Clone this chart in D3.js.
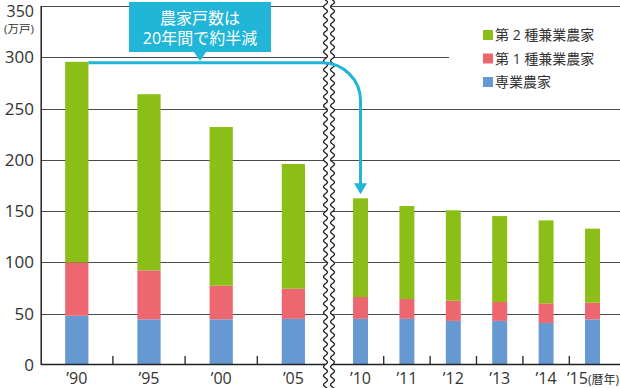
<!DOCTYPE html>
<html>
<head>
<meta charset="utf-8">
<script src="https://cdn.jsdelivr.net/npm/d3@7"></script>
<style>
  body { margin: 0; background: #fff; }
  svg { display: block; font-family: "Open Sans", "Noto Sans CJK JP", sans-serif; }
</style>
</head>
<body>
<div id="chart"></div>
<script>
// データ（万戸）
const years = ["’90", "’95", "’00", "’05", "’10", "’11", "’12", "’13", "’14", "’15"];
const sengyo = [48, 44.5, 44.5, 45, 45, 45, 43, 43, 41, 44.5];        // 専業農家
const kengyo1 = [52, 47.8, 32.8, 29.4, 21.3, 19.3, 19.7, 18.4, 19.1, 16.2]; // 第1種兼業農家
const kengyo2 = [195.6, 171.7, 154.7, 121.6, 96.2, 90.7, 88.1, 83.8, 80.9, 72.2]; // 第2種兼業農家
const yTicks = [0, 50, 100, 150, 200, 250, 300, 350];
const legendLabels = ["第 2 種兼業農家", "第 1 種兼業農家", "専業農家"];

const width = 620, height = 388;
const colors = { s: "#6698d2", k1: "#ec6770", k2: "#8bbe16" };
const cyan = "#21b5d8";

const svg = d3.select("#chart").append("svg")
    .attr("width", width)
    .attr("height", height);

const y = d3.scaleLinear().domain([0, 350]).range([365, 6]);

// 左（5年おき）と右（毎年）の2つのスケール
const leftYears = years.slice(0, 4);
const rightYears = years.slice(4);
const xL = d3.scaleBand().domain(leftYears).range([40.7, 329.5]);
const xR = d3.scaleBand().domain(rightYears).range([337.3, 615.7]);
const xc = d => leftYears.includes(d) ? xL(d) + xL.bandwidth() / 2 : xR(d) + xR.bandwidth() / 2;
const bw = d => (leftYears.includes(d) ? xL.bandwidth() : xR.bandwidth()) * 0.322;

// グリッド線
svg.append("g").selectAll("line")
    .data(yTicks.filter(t => t > 0))
    .join("line")
    .attr("x1", 41).attr("x2", width)
    .attr("y1", d => Math.round(y(d)) + 0.5).attr("y2", d => Math.round(y(d)) + 0.5)
    .attr("stroke", "#4a4a4a").attr("stroke-width", 1);

// y軸ラベル
svg.append("g").selectAll("text")
    .data(yTicks)
    .join("text")
    .attr("x", 34).attr("y", d => Math.max(y(d) + 6, 17))
    .attr("text-anchor", "end")
    .attr("font-size", d => d === 350 ? 16 : 17).attr("fill", "#333")
    .text(d => d);

svg.append("text")
    .attr("x", 19).attr("y", 33)
    .attr("text-anchor", "middle")
    .attr("font-size", 11.5).attr("fill", "#333")
    .text("(万戸)");

// 積み上げ棒
const rows = years.map((d, i) => ({ year: d, s: sengyo[i], k1: kengyo1[i], k2: kengyo2[i] }));
const stack = d3.stack().keys(["s", "k1", "k2"])(rows);

svg.append("g").selectAll("g")
    .data(stack)
    .join("g")
    .attr("fill", d => colors[d.key])
    .selectAll("rect")
    .data(d => d)
    .join("rect")
    .attr("x", d => xc(d.data.year) - bw(d.data.year) / 2)
    .attr("width", d => bw(d.data.year))
    .attr("y", d => y(d[1]))
    .attr("height", d => y(d[0]) - y(d[1]));

// 軸線
svg.append("line")
    .attr("x1", 41.2).attr("x2", 41.2).attr("y1", 6).attr("y2", 365)
    .attr("stroke", "#222").attr("stroke-width", 1.5);
svg.append("line")
    .attr("x1", 41).attr("x2", width).attr("y1", 364.5).attr("y2", 364.5)
    .attr("stroke", "#222").attr("stroke-width", 1.6);

// x軸の目盛り（棒の間）
const tickXs = xL.domain().slice(1).map(d => xL(d))
    .concat(xR.domain().slice(1).map(d => xR(d)));
svg.append("g").selectAll("line")
    .data(tickXs)
    .join("line")
    .attr("x1", d => d).attr("x2", d => d)
    .attr("y1", 356).attr("y2", 364)
    .attr("stroke", "#222").attr("stroke-width", 1.3);

// x軸ラベル
svg.append("g").selectAll("text")
    .data(years.slice(0, -1))
    .join("text")
    .attr("x", d => xc(d)).attr("y", 384)
    .attr("text-anchor", "middle")
    .attr("font-size", 16).attr("fill", "#333")
    .text(d => d);

const last = svg.append("text")
    .attr("x", 619).attr("y", 384)
    .attr("text-anchor", "end")
    .attr("fill", "#333");
last.append("tspan").attr("font-size", 16).text(years[years.length - 1]);
last.append("tspan").attr("font-size", 12).text("(暦年)");

// 省略記号（波線）
function wave(x0) {
    const pts = [];
    for (let yy = -2; yy <= height + 2; yy += 1) {
        pts.push([x0 + 2 * Math.sin(yy / 9 * 2 * Math.PI), yy]);
    }
    return pts;
}
const wl = wave(325.5), wr = wave(332.5);
svg.append("path")
    .attr("d", d3.line()(wl.concat(wr.slice().reverse())) + "Z")
    .attr("fill", "#fff");
svg.selectAll(".wave")
    .data([wl, wr])
    .join("path")
    .attr("class", "wave")
    .attr("d", d3.line())
    .attr("fill", "none")
    .attr("stroke", "#222").attr("stroke-width", 1.3);

// 矢印
const x0 = xc(years[0]) + bw(years[0]) / 2;
const y0 = y(sengyo[0] + kengyo1[0] + kengyo2[0]) + 1;
const x1 = xc(years[4]);
const yTop10 = y(sengyo[4] + kengyo1[4] + kengyo2[4]);
const r = 38;
svg.append("path")
    .attr("d", `M${x0},${y0} H${x1 - r} A${r},${r} 0 0 1 ${x1},${y0 + r} V${yTop10 - 14}`)
    .attr("fill", "none")
    .attr("stroke", cyan).attr("stroke-width", 3);
svg.append("path")
    .attr("d", `M${x1 - 6.5},${yTop10 - 15} L${x1 + 6.5},${yTop10 - 15} L${x1},${yTop10 - 4} Z`)
    .attr("fill", cyan);

// 吹き出し
svg.append("path")
    .attr("d", "M129,2 H271 V52 H206 L200,61 L194,52 H129 Z")
    .attr("fill", cyan);
svg.append("text")
    .attr("x", 200).attr("y", 24)
    .attr("text-anchor", "middle")
    .attr("font-size", 16).attr("fill", "#fff")
    .text("農家戸数は");
svg.append("text")
    .attr("x", 200).attr("y", 44)
    .attr("text-anchor", "middle")
    .attr("font-size", 16).attr("fill", "#fff")
    .text("20年間で約半減");

// 凡例
svg.append("rect")
    .attr("x", 449).attr("y", 20).attr("width", width - 449).attr("height", 78)
    .attr("fill", "#fff");
const legendColors = [colors.k2, colors.k1, colors.s];
const lg = svg.append("g").selectAll("g")
    .data(legendLabels)
    .join("g")
    .attr("transform", (d, i) => `translate(483,${35 + i * 23.5})`);
lg.append("rect")
    .attr("x", 0).attr("y", -5).attr("width", 10).attr("height", 10)
    .attr("fill", (d, i) => legendColors[i]);
lg.append("text")
    .attr("x", 12).attr("y", 5)
    .attr("font-size", 14).attr("fill", "#333")
    .text(d => d);
</script>
</body>
</html>
